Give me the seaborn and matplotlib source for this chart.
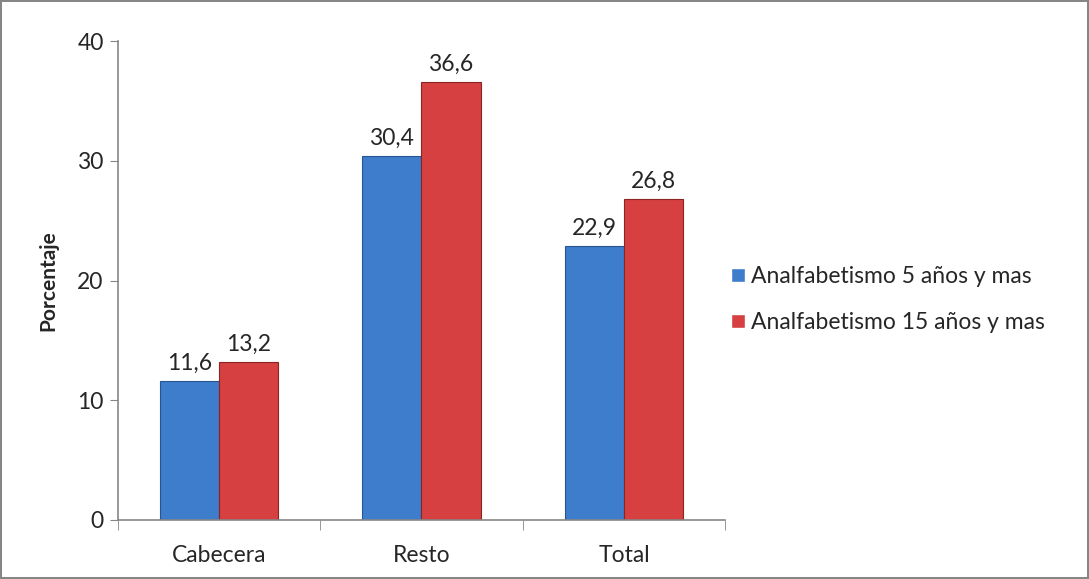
import matplotlib
matplotlib.use("Agg")
import matplotlib.pyplot as plt
import seaborn as sns
import pandas as pd
from matplotlib.ticker import FixedLocator

categories = ["Cabecera", "Resto", "Total"]
series_names = ["Analfabetismo 5 años y mas", "Analfabetismo 15 años y mas"]
values_5 = [11.6, 30.4, 22.9]
values_15 = [13.2, 36.6, 26.8]

df = pd.DataFrame({
    "categoria": categories * 2,
    "serie": [series_names[0]] * 3 + [series_names[1]] * 3,
    "valor": values_5 + values_15,
})

sns.set_style("white")
plt.rcParams["font.family"] = ["Lato", "DejaVu Sans"]

fs = 16.5

fig = plt.figure(figsize=(10.89, 5.79), dpi=100)
fig.patch.set_edgecolor("#868686")
fig.patch.set_linewidth(1.5)
ax = fig.add_axes([0.108, 0.102, 0.558, 0.827])

palette = {series_names[0]: "#3d7dcc", series_names[1]: "#d64040"}
sns.barplot(data=df, x="categoria", y="valor", hue="serie", palette=palette,
            width=0.585, errorbar=None, ax=ax, saturation=1)

edges = ["#27558f", "#8c2424"]
for i, cont in enumerate(ax.containers):
    for bar in cont:
        bar.set_edgecolor(edges[i])
        bar.set_linewidth(0.8)
    labels = [f"{v:.1f}".replace(".", ",") for v in cont.datavalues]
    ax.bar_label(cont, labels=labels, padding=5, fontsize=fs)

ax.set_ylim(0, 40)
ax.set_xlim(-0.5, 2.5)
ax.set_yticks([0, 10, 20, 30, 40])
ax.tick_params(axis="y", direction="out", length=6, color="#868686", labelsize=fs, pad=4, left=True)
ax.tick_params(axis="x", which="major", length=0, labelsize=fs, pad=18)
ax.xaxis.set_minor_locator(FixedLocator([-0.5, 0.5, 1.5, 2.5]))
ax.tick_params(axis="x", which="minor", direction="out", length=7, color="#868686", bottom=True)

for side in ["top", "right"]:
    ax.spines[side].set_visible(False)
for side in ["left", "bottom"]:
    ax.spines[side].set_color("#868686")
    ax.spines[side].set_linewidth(1.2)

ax.set_xlabel("")
ax.set_ylabel("Porcentaje", fontsize=15, fontweight="bold", labelpad=14)

ax.legend(title=None, frameon=False, fontsize=fs, loc="center left",
          bbox_to_anchor=(0.995, 0.46), borderaxespad=0, handlelength=0.6,
          handleheight=0.6, handletextpad=0.25, labelspacing=1.1)

fig.savefig("out.png", dpi=100)
